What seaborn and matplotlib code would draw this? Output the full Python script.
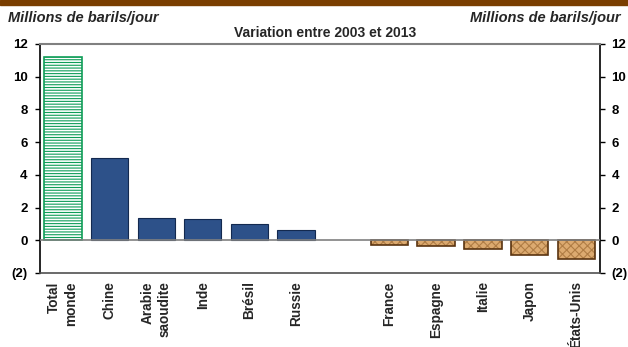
import matplotlib.pyplot as plt
import matplotlib.patches as mpatches
import seaborn as sns

categories = ['Total\nmonde', 'Chine', 'Arabie\nsaoudite', 'Inde', 'Brésil', 'Russie', ' ',
              'France', 'Espagne', 'Italie', 'Japon', 'États-Unis']
present = ['Total\nmonde', 'Chine', 'Arabie\nsaoudite', 'Inde', 'Brésil', 'Russie',
           'France', 'Espagne', 'Italie', 'Japon', 'États-Unis']
values = [11.2, 5.05, 1.35, 1.3, 1.0, 0.65, -0.3, -0.35, -0.55, -0.9, -1.15]
ytick_vals = [-2, 0, 2, 4, 6, 8, 10, 12]
ytick_labels = ['(2)', '0', '2', '4', '6', '8', '10', '12']

sns.set_style('white')
plt.rcParams['font.family'] = ['Liberation Sans', 'DejaVu Sans']
plt.rcParams['font.weight'] = 'bold'
plt.rcParams['hatch.linewidth'] = 0.8

fig = plt.figure(figsize=(6.28, 3.47), dpi=100)
ax = fig.add_axes([39.5 / 628, 1 - 273 / 347, 560 / 628, 229 / 347])

blue = '#2d5189'
green = '#0f9d58'
tan = '#dcaa70'
palette = {c: blue for c in present}
palette['Total\nmonde'] = 'white'
for c in present[6:]:
    palette[c] = tan

sns.barplot(x=present, y=values, hue=present, palette=palette, order=categories,
            hue_order=present, legend=False, width=0.8, ax=ax, saturation=1)

for p in list(ax.patches):
    if p.get_height() == 0 and p.get_width() == 0:
        continue
    if p.get_y() + p.get_height() > 8:
        p.set_edgecolor(green)
        p.set_hatch('------')
        p.set_linewidth(1.2)
    elif p.get_height() < 0:
        p.set_edgecolor('#b07d45')
        p.set_hatch('xxxx')
        p.set_linewidth(0)
        ax.add_patch(mpatches.Rectangle((p.get_x(), p.get_y()), p.get_width(), p.get_height(),
                                        fill=False, edgecolor='#5a3410', linewidth=1.2, zorder=3))
    else:
        p.set_edgecolor('#13294f')
        p.set_linewidth(0.8)

ax.axhline(0, color='#808080', lw=1.2, zorder=4)
ax.set_ylim(-2, 12)
ax.set_xlim(-0.5, 11.5)
ax.set_yticks(ytick_vals)
ax.set_yticklabels(ytick_labels, fontsize=9.5, fontweight='bold')
ax.tick_params(axis='y', which='both', direction='out', length=3.5, width=1, left=True,
               right=True, labelright=True, pad=5, colors='black')
ax.tick_params(axis='x', length=0, pad=6)
ax.set_xticks(range(len(categories)))
ax.set_xticklabels(categories, rotation=90, fontsize=9.8, fontweight='bold',
                   va='top', ha='center', multialignment='right', linespacing=1.3)
ax.set_xlabel('')
ax.set_ylabel('')

for side in ['left', 'right']:
    ax.spines[side].set_color('black')
    ax.spines[side].set_linewidth(1.2)
ax.spines['top'].set_color('#808080')
ax.spines['top'].set_linewidth(1.5)
ax.spines['bottom'].set_color('#505050')
ax.spines['bottom'].set_linewidth(1.2)

fig.text(325 / 628, 1 - 33 / 347, 'Variation entre 2003 et 2013', ha='center', va='center',
         fontsize=10, fontweight='bold')
fig.text(8 / 628, 1 - 18 / 347, 'Millions de barils/jour', ha='left', va='center',
         fontsize=10.5, fontweight='bold', style='italic')
fig.text(621 / 628, 1 - 18 / 347, 'Millions de barils/jour', ha='right', va='center',
         fontsize=10.5, fontweight='bold', style='italic')
fig.patches.append(mpatches.Rectangle((0, 1 - 5 / 347), 1, 5 / 347, transform=fig.transFigure,
                                      color='#7a3e00', zorder=0))

fig.savefig('out.png', dpi=100)
